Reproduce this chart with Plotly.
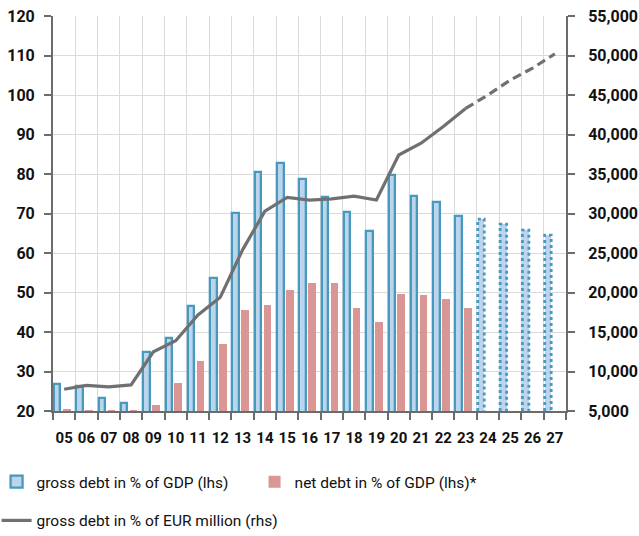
import plotly.graph_objects as go

# Years (two-digit labels) 2005-2027; 2024 onwards are forecasts
years = ["05", "06", "07", "08", "09", "10", "11", "12", "13", "14", "15", "16",
         "17", "18", "19", "20", "21", "22", "23", "24", "25", "26", "27"]
gross_pct = [26.8, 26.3, 23.2, 22.1, 34.9, 38.6, 46.7, 53.7, 70.2, 80.4, 82.9, 78.7,
             74.3, 70.5, 65.6, 79.7, 74.5, 72.8, 69.4, 68.6, 67.3, 65.8, 64.5]
net_pct = [20.4, 20.3, 20.3, 20.3, 21.5, 27.1, 32.7, 37.0, 45.6, 46.9, 50.7, 52.5,
           52.3, 46.2, 42.5, 49.5, 49.3, 48.4, 46.2, None, None, None, None]
gross_eur = [7750, 8250, 8050, 8300, 12500, 13900, 17150, 19400, 25400, 30300, 32050, 31700,
             31850, 32200, 31700, 37400, 38900, 41000, 43300, 45000, 46900, 48400, 50200]
n_actual = 19  # 2005-2023 are outturns

BLUE = "#4799be"
LIGHT_BLUE = "#bcd5ec"
PINK = "#d99695"
GREY_LINE = "#707070"
AXIS = "#6b6b6b"
GRID = "#dadada"
FONT = "Roboto, sans-serif"

idx = list(range(len(years)))
gross_x = [i - 0.31 for i in idx]
net_x = [i + 0.115 for i in idx]
bar_w = 0.29

fig = go.Figure()

# gross debt, outturn years
fig.add_trace(go.Bar(
    x=gross_x[:n_actual], y=gross_pct[:n_actual], width=bar_w,
    marker=dict(color=LIGHT_BLUE, line=dict(color=BLUE, width=2.3)),
    name="gross debt in % of GDP (lhs)", legend="legend",
))
# net debt
fig.add_trace(go.Bar(
    x=net_x, y=net_pct, width=0.34,
    marker=dict(color=PINK, line=dict(width=0)),
    name="net debt in % of GDP (lhs)*", legend="legend",
))
# gross debt, forecast years: light fill with a dotted outline
fig.add_trace(go.Bar(
    x=gross_x[n_actual:], y=gross_pct[n_actual:], width=bar_w,
    marker=dict(color=LIGHT_BLUE, line=dict(width=0)),
    showlegend=False,
))
ox, oy = [], []
for x, v in zip(gross_x[n_actual:], gross_pct[n_actual:]):
    x0, x1 = x - bar_w / 2, x + bar_w / 2
    ox += [x0, x0, x1, x1, None]
    oy += [20, v, v, 20, None]
fig.add_trace(go.Scatter(
    x=ox, y=oy, mode="lines", line=dict(color=BLUE, width=2.8, dash="dot"),
    showlegend=False, hoverinfo="skip",
))

# gross debt in EUR million, right axis
fig.add_trace(go.Scatter(
    x=idx[:n_actual], y=gross_eur[:n_actual], yaxis="y2", mode="lines",
    line=dict(color=GREY_LINE, width=3.2),
    name="gross debt in % of EUR million (rhs)", legend="legend2",
))
fig.add_trace(go.Scatter(
    x=idx[n_actual - 1:], y=gross_eur[n_actual - 1:], yaxis="y2", mode="lines",
    line=dict(color=GREY_LINE, width=3.2, dash="9px,5px"),
    showlegend=False,
))

y_tick_font = dict(family=FONT, size=16, color="#111111", weight="bold")
x_tick_font = dict(family=FONT, size=15, color="#111111", weight="bold")
legend_font = dict(family=FONT, size=15.5, color="#111111")

fig.update_layout(
    width=639, height=536,
    margin=dict(l=53, r=73, t=16, b=125, autoexpand=False),
    paper_bgcolor="white", plot_bgcolor="white",
    barmode="overlay",
    bargap=0,
    xaxis=dict(
        range=[-0.5, len(years) - 0.5], tickvals=idx, ticktext=years,
        ticks="", showgrid=False, zeroline=False, tickangle=0, automargin=False,
        showline=True, linecolor=AXIS, linewidth=2, ticklabelstandoff=12,
        tickfont=x_tick_font,
        minor=dict(tick0=-0.5, dtick=1, ticks="outside", ticklen=7,
                   tickcolor=AXIS, tickwidth=1.5, showgrid=True,
                   gridcolor=GRID, gridwidth=1),
    ),
    yaxis=dict(
        range=[20, 120], dtick=10, showgrid=True, gridcolor=GRID, gridwidth=1,
        zeroline=False, showline=True, linecolor=AXIS, linewidth=2, automargin=False,
        ticks="outside", ticklen=7, tickcolor=AXIS, tickwidth=1.5,
        ticklabelstandoff=6, tickfont=y_tick_font,
    ),
    yaxis2=dict(
        range=[5000, 55000], dtick=5000, overlaying="y", side="right",
        tickformat=",d", showgrid=False, zeroline=False, automargin=False,
        showline=True, linecolor=AXIS, linewidth=2,
        ticks="outside", ticklen=7, tickcolor=AXIS, tickwidth=1.5,
        ticklabelstandoff=10, tickfont=y_tick_font,
    ),
    legend=dict(
        orientation="h", x=-0.110, xanchor="left", y=-0.137, yanchor="top",
        font=legend_font, entrywidth=213, bgcolor="rgba(0,0,0,0)",
    ),
    legend2=dict(
        orientation="h", x=-0.110, xanchor="left", y=-0.235, yanchor="top",
        font=legend_font, bgcolor="rgba(0,0,0,0)",
    ),
    showlegend=True,
)

fig.write_html("out.html")
